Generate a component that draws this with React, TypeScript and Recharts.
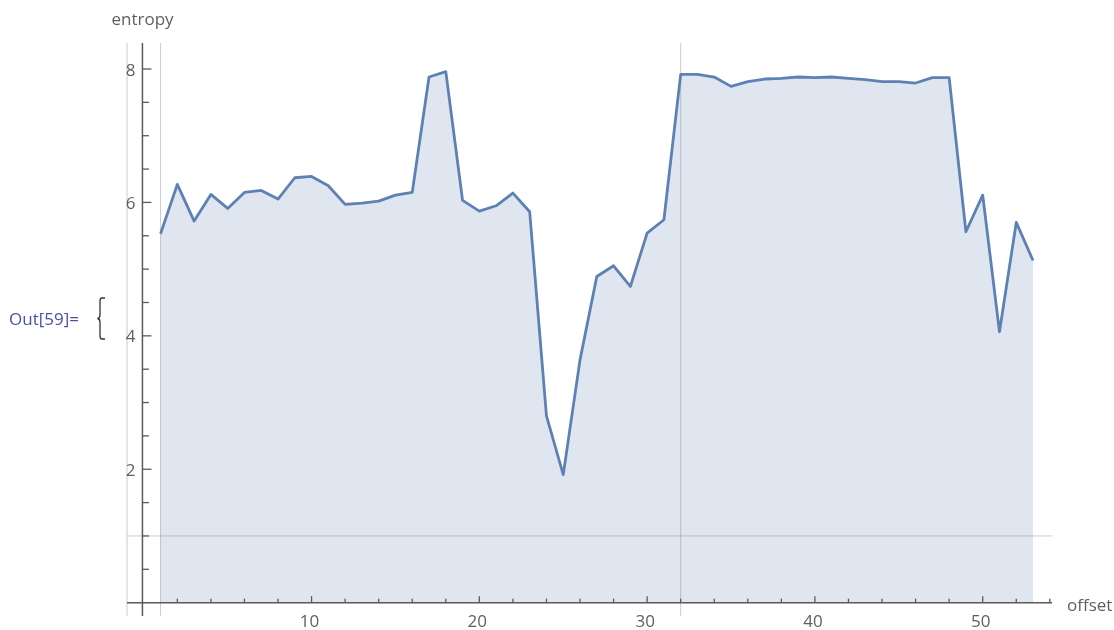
import React from 'react';
import { ComposedChart, Area, XAxis, YAxis, ReferenceLine } from 'recharts';

const offsets = [1, 2, 3, 4, 5, 6, 7, 8, 9, 10, 11, 12, 13, 14, 15, 16, 17, 18, 19, 20, 21, 22, 23, 24, 25, 26, 27, 28, 29, 30, 31, 32, 33, 34, 35, 36, 37, 38, 39, 40, 41, 42, 43, 44, 45, 46, 47, 48, 49, 50, 51, 52, 53];
const entropy = [
  5.53, 6.27, 5.72, 6.12, 5.91, 6.15, 6.18, 6.05, 6.37, 6.39,
  6.25, 5.97, 5.99, 6.02, 6.11, 6.15, 7.88, 7.96, 6.03, 5.87,
  5.95, 6.14, 5.86, 2.8, 1.92, 3.64, 4.89, 5.05, 4.74, 5.54,
  5.74, 7.92, 7.92, 7.88, 7.74, 7.81, 7.85, 7.86, 7.88, 7.87,
  7.88, 7.86, 7.84, 7.81, 7.81, 7.79, 7.87, 7.87, 5.56, 6.11,
  4.06, 5.7, 5.13,
];
const xTicks = [2, 4, 6, 8, 10, 12, 14, 16, 18, 20, 22, 24, 26, 28, 30, 32, 34, 36, 38, 40, 42, 44, 46, 48, 50, 52, 54];
const yTicks = [0.5, 1, 1.5, 2, 2.5, 3, 3.5, 4, 4.5, 5, 5.5, 6, 6.5, 7, 7.5, 8];
const xGridLines = [-1, 1, 32];
const yGridLines = [1];

const data = offsets.map((o, i) => ({ offset: o, entropy: entropy[i] }));

const W = 1106;
const H = 622;
const M = { top: 35, right: 62, left: 89, bottom: 0 };
const Y_AXIS_W = 30;
const X_AXIS_H = 14;
const X_MIN = -1;
const X_MAX = 54.13;
const Y_MIN = -0.2;
const Y_MAX = 8.39;
const AXIS_X = -0.08;
const plotW = W - M.left - M.right - Y_AXIS_W;
const plotH = H - M.top - M.bottom - X_AXIS_H;
const xAxisShift = ((0 - Y_MIN) / (Y_MAX - Y_MIN)) * plotH;
const yAxisShift = ((AXIS_X - X_MIN) / (X_MAX - X_MIN)) * plotW;

const AXIS_COLOR = '#5a5a5a';
const TEXT_COLOR = '#5f5f5f';
const FONT = "'Open Sans', sans-serif";
const LINE_COLOR = '#5e81b5';

const XTick = (props: any) => {
  const { x, y, payload } = props;
  const v = payload.value;
  const major = v % 10 === 0;
  const ay = y - xAxisShift;
  return (
    <g>
      <line x1={x} x2={x} y1={ay} y2={ay - (major ? 6.5 : 4)} stroke={AXIS_COLOR} strokeWidth={1.3} />
      {major && (
        <text x={x - 2} y={ay + 17.5} textAnchor="middle" dominantBaseline="central" fontFamily={FONT} fontSize={17} fill={TEXT_COLOR}>
          {v}
        </text>
      )}
    </g>
  );
};

const YTick = (props: any) => {
  const { x, y, payload } = props;
  const v = payload.value;
  const major = v % 2 === 0;
  const ax = x + yAxisShift;
  return (
    <g>
      <line x1={ax} x2={ax + (major ? 9 : 6.5)} y1={y} y2={y} stroke={AXIS_COLOR} strokeWidth={1.3} />
      {major && (
        <text x={ax - 7} y={y} textAnchor="end" dominantBaseline="central" fontFamily={FONT} fontSize={17} fill={TEXT_COLOR}>
          {v}
        </text>
      )}
    </g>
  );
};

export default function App() {
  return (
    <div style={{ position: 'fixed', left: 8, top: 8, width: W, height: H, overflow: 'hidden' }}>
      <ComposedChart width={W} height={H} data={data} margin={M}>
        <XAxis
          dataKey="offset"
          type="number"
          domain={[X_MIN, X_MAX]}
          allowDataOverflow
          ticks={xTicks}
          interval={0}
          height={X_AXIS_H}
          axisLine={false}
          tickLine={false}
          tickSize={0}
          tickMargin={0}
          tick={<XTick />}
        />
        <YAxis
          type="number"
          domain={[Y_MIN, Y_MAX]}
          allowDataOverflow
          ticks={yTicks}
          interval={0}
          width={Y_AXIS_W}
          axisLine={false}
          tickLine={false}
          tickSize={0}
          tickMargin={0}
          tick={<YTick />}
        />
        {xGridLines.map((g) => (
          <ReferenceLine key={'gx' + g} x={g} stroke="#808080" strokeOpacity={0.4} strokeWidth={1} ifOverflow="visible" />
        ))}
        {yGridLines.map((g) => (
          <ReferenceLine key={'gy' + g} y={g} stroke="#808080" strokeOpacity={0.4} strokeWidth={1} />
        ))}
        <Area
          type="linear"
          dataKey="entropy"
          stroke={LINE_COLOR}
          strokeWidth={2.8}
          strokeLinejoin="round"
          fill={LINE_COLOR}
          fillOpacity={0.2}
          baseValue={0}
          dot={false}
          activeDot={false}
          isAnimationActive={false}
        />
        <ReferenceLine y={0} stroke={AXIS_COLOR} strokeWidth={1.5} />
        <ReferenceLine x={AXIS_X} stroke={AXIS_COLOR} strokeWidth={1.5} />
      </ComposedChart>
      <svg width={W} height={H} style={{ position: 'absolute', left: 0, top: 0, pointerEvents: 'none' }}>
        <text x={134.5} y={10} textAnchor="middle" dominantBaseline="central" fontFamily={FONT} fontSize={17} fill={TEXT_COLOR}>
          entropy
        </text>
        <text x={1059} y={596} textAnchor="start" dominantBaseline="central" fontFamily={FONT} fontSize={17} fill={TEXT_COLOR}>
          offset
        </text>
        <text x={1} y={310} textAnchor="start" dominantBaseline="central" fontFamily={FONT} fontSize={17} fill="#4a50a8">
          Out[59]=
        </text>
        <path
          d="M 97 290 L 94 290 Q 92 290 92 293 L 92 307 Q 92 310 89.5 310.5 Q 92 311 92 314 L 92 328 Q 92 331 94 331 L 97 331"
          fill="none"
          stroke="#333"
          strokeWidth={1.3}
        />
      </svg>
    </div>
  );
}
